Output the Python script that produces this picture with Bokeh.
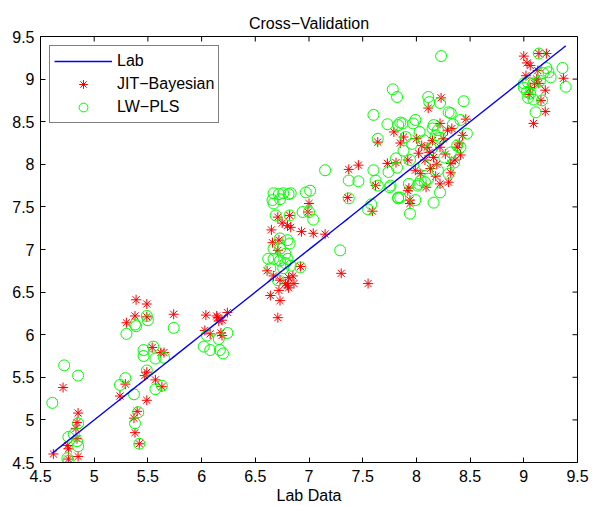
import math
from bokeh.plotting import figure
from bokeh.models import FixedTicker, Legend, LegendItem, Range1d
from bokeh.embed import file_html
from bokeh.resources import INLINE

# ---------------- data ----------------
tick_values = [4.5, 5.0, 5.5, 6.0, 6.5, 7.0, 7.5, 8.0, 8.5, 9.0, 9.5]
tick_labels = ["4.5", "5", "5.5", "6", "6.5", "7", "7.5", "8", "8.5", "9", "9.5"]

# JIT-Bayesian predictions (lab value, predicted value)
jit_x = [4.62, 4.71, 4.85, 4.84, 4.83, 4.84, 4.85, 4.75, 4.76, 4.76,
         5.24, 5.29, 5.30, 5.38, 5.39, 5.49, 5.49, 5.37, 5.40, 5.38,
         5.42, 5.49, 5.49, 5.47, 5.54, 5.62, 5.65, 5.57, 5.63, 5.74,
         6.04, 6.03, 6.14, 6.19, 6.24, 6.08, 6.18, 6.19, 6.15, 6.16,
         6.71, 6.82, 6.75, 6.80, 6.65, 6.93, 7.04, 7.15, 6.66, 6.72,
         6.71, 6.92, 7.30, 6.61, 6.67, 6.73, 6.81, 6.85, 6.78, 6.81,
         6.72, 6.64, 6.73, 6.71, 7.00, 6.99, 6.83, 6.86, 6.80, 7.55,
         7.37, 7.46, 7.36, 7.59, 7.62, 7.64, 7.73, 7.81, 7.79, 7.85,
         7.93, 7.94, 8.23, 8.11, 8.46, 8.22, 8.29, 8.43, 7.88, 8.15,
         8.10, 8.22, 8.02, 8.16, 8.08, 8.32, 8.36, 8.41, 7.92, 7.99,
         8.04, 8.13, 8.32, 8.30, 8.22, 7.92, 8.09, 7.94, 8.27, 8.05,
         8.19, 8.38, 8.33, 8.40, 8.12, 8.25, 8.00, 8.18,
         9.14, 9.21, 9.00, 9.03, 9.06, 9.02, 9.37, 9.13, 9.06, 9.14,
         9.20, 9.16, 9.20, 9.09, 9.10, 9.05, 9.12]
jit_y = [4.60, 5.38, 5.08, 4.97, 4.90, 4.78, 4.57, 4.70, 4.66, 4.54,
         5.28, 5.42, 6.14, 6.22, 6.41, 6.36, 6.21, 5.02, 5.10, 4.85,
         4.72, 5.23, 5.56, 5.52, 5.85, 5.79, 5.79, 5.47, 5.39, 6.24,
         6.23, 6.05, 6.22, 6.17, 6.26, 6.01, 6.02, 5.99, 6.20, 6.16,
         7.38, 7.40, 7.31, 7.28, 7.23, 7.21, 7.19, 7.18, 7.08, 7.11,
         6.99, 6.80, 6.72, 6.75, 6.69, 6.64, 6.67, 6.69, 6.60, 6.55,
         6.52, 6.46, 6.40, 6.20, 7.54, 7.44, 7.26, 6.60, 6.58, 6.60,
         7.94, 7.99, 7.61, 7.45, 7.75, 8.26, 8.01, 8.02, 8.38, 8.25,
         7.72, 7.58, 8.78, 8.66, 8.53, 8.48, 8.40, 8.34, 8.32, 8.28,
         8.20, 8.20, 8.13, 8.08, 8.05, 8.01, 8.05, 8.11, 8.05, 7.93,
         7.89, 7.95, 7.90, 7.79, 7.77, 7.69, 7.73, 7.54, 8.12, 8.22,
         8.00, 8.20, 8.42, 8.25, 8.14, 8.30, 8.30, 7.86,
         9.30, 9.30, 9.27, 9.19, 9.16, 9.04, 9.01, 9.10, 8.90, 8.95,
         8.87, 8.75, 8.62, 8.48, 8.95, 8.82, 9.00]

# LW-PLS predictions (lab value, predicted value)
lw_x = [4.61, 4.72, 4.85, 4.85, 4.76, 4.81, 4.85, 4.75, 4.76, 4.84,
        5.24, 5.29, 5.30, 5.38, 5.39, 5.49, 5.50, 5.37, 5.38, 5.41,
        5.42, 5.46, 5.46, 5.49, 5.55, 5.57, 5.65, 5.57, 5.63, 5.74,
        6.02, 6.08, 6.17, 6.20, 6.05, 6.16, 6.24,
        6.67, 6.72, 6.76, 6.81, 6.83, 6.66, 6.67, 6.73, 6.97, 7.01,
        6.94, 7.00, 7.04, 6.69, 6.82, 6.73, 6.80, 6.82, 6.67, 6.73,
        6.67, 6.73, 6.80, 6.62, 6.92, 6.64, 6.76, 6.71, 6.83, 6.78,
        6.78,
        7.29, 7.15, 7.37, 7.46, 7.37, 7.58, 7.55, 7.60, 7.60, 7.64,
        7.62, 7.64, 7.73, 7.87, 7.83,
        7.78, 7.82, 8.11, 8.12, 8.22, 8.23, 8.44, 8.30, 8.32, 8.41,
        8.34, 8.16, 8.15, 8.20, 8.22, 8.47, 7.99, 7.97, 7.85, 7.88,
        7.96, 8.07, 8.38, 8.41, 8.32, 7.94, 8.07, 8.20, 8.30, 8.04,
        8.11, 8.02, 8.08, 8.22, 8.16, 7.99, 7.94, 7.85, 7.75, 7.83,
        7.81, 7.82, 7.74, 7.76, 7.93, 8.01, 7.83, 8.14, 8.26, 8.03,
        8.18, 8.35, 7.90,
        9.14, 9.21, 9.23, 9.18, 9.36, 9.39, 9.00, 9.04, 9.09, 9.03,
        9.06, 9.04, 9.09, 9.17, 9.11, 9.00, 9.25, 9.15]
lw_y = [5.20, 5.64, 5.52, 4.96, 4.80, 4.83, 4.69, 4.55, 4.52, 4.75,
        5.41, 5.49, 6.01, 6.12, 6.10, 6.22, 6.17, 5.30, 4.96, 5.09,
        4.72, 5.82, 5.75, 5.58, 5.86, 5.72, 5.73, 5.36, 5.40, 6.08,
        5.86, 5.82, 5.82, 5.78, 5.99, 5.95, 6.02,
        7.66, 7.65, 7.66, 7.65, 7.66, 7.58, 7.54, 7.59, 7.67, 7.69,
        7.44, 7.44, 7.35, 7.40, 7.40, 7.13, 7.11, 7.07, 7.01, 7.01,
        6.89, 6.87, 6.89, 6.89, 6.79, 6.78, 6.78, 6.64, 6.81, 6.84,
        6.95,
        6.99, 7.93, 7.81, 7.80, 7.60, 7.53, 7.47, 7.93, 8.58, 8.30,
        7.81, 7.75, 8.47, 8.48, 8.46,
        8.88, 8.79, 8.79, 8.73, 8.72, 9.27, 8.74, 8.61, 8.60, 8.52,
        8.47, 8.46, 8.42, 8.40, 8.31, 8.36, 8.52, 8.48, 8.49, 8.16,
        8.24, 8.28, 8.22, 8.20, 8.14, 8.05, 7.99, 7.93, 7.89, 7.81,
        7.83, 7.77, 7.79, 7.67, 7.55, 7.58, 7.42, 7.61, 7.73, 7.61,
        8.07, 7.96, 7.91, 7.75, 7.77, 7.75, 7.60, 8.18, 8.08, 8.38,
        8.34, 8.02, 8.32,
        9.30, 9.13, 9.08, 9.07, 9.13, 8.91, 8.95, 8.96, 8.95, 8.85,
        8.83, 8.78, 8.76, 8.75, 8.61, 8.90, 9.02, 8.98]

# Lab reference line: measured values against themselves
lab = sorted(set(jit_x + lw_x))

# ---------------- figure ----------------
FONT = "Liberation Sans"
FS = "16px"
X0, X1 = tick_values[0], tick_values[-1]

p = figure(width=592, height=506, output_backend="svg", toolbar_location=None,
           x_range=Range1d(X0, X1), y_range=Range1d(X0, X1),
           min_border_left=40, min_border_right=15,
           min_border_top=36, min_border_bottom=44)
p.background_fill_color = "white"
p.border_fill_color = "white"
p.outline_line_color = "black"
p.outline_line_width = 1
p.grid.visible = False

p.title.text = "Cross\u2212Validation"
p.title.align = "center"
p.title.text_font = FONT
p.title.text_font_size = FS
p.title.text_font_style = "normal"
p.title.text_color = "black"

overrides = {v: s for v, s in zip(tick_values, tick_labels)}

def style_axis(ax):
    ax.ticker = FixedTicker(ticks=tick_values)
    ax.major_tick_in = 5
    ax.major_tick_out = 0
    ax.minor_tick_line_color = None
    ax.axis_line_color = "black"
    ax.major_tick_line_color = "black"
    ax.major_label_text_font = FONT
    ax.major_label_text_font_size = FS
    ax.major_label_text_color = "black"
    ax.major_label_overrides = overrides

for ax in p.xaxis:
    style_axis(ax)
    ax.major_label_standoff = 7
    ax.axis_label = "Lab Data"
    ax.axis_label_text_font = FONT
    ax.axis_label_text_font_size = FS
    ax.axis_label_text_font_style = "normal"
    ax.axis_label_text_color = "black"
    ax.axis_label_standoff = 2
for ax in p.yaxis:
    style_axis(ax)
    ax.major_label_standoff = 6

# inward tick marks on the top and right edges of the box
n = len(tick_values)
p.ray(x=tick_values, y=[X1] * n, length=5, length_units="screen",
      angle=-math.pi / 2, line_color="black", line_width=1)
p.ray(x=[X1] * n, y=tick_values, length=5, length_units="screen",
      angle=math.pi, line_color="black", line_width=1)

r_jit = p.scatter(jit_x, jit_y, marker="asterisk", size=10,
                  line_color="#ff0000", line_width=1)
r_lw = p.scatter(lw_x, lw_y, marker="circle", size=11, fill_color=None,
                 line_color="#00ff00", line_width=1)
r_lab = p.line(lab, lab, line_color="#0000ff", line_width=1.4)

legend = Legend(items=[LegendItem(label="Lab", renderers=[r_lab]),
                       LegendItem(label="JIT\u2212Bayesian", renderers=[r_jit]),
                       LegendItem(label="LW\u2212PLS", renderers=[r_lw])],
                location="top_left")
legend.margin = 9
legend.padding = 4
legend.spacing = 1
legend.label_height = 22
legend.glyph_height = 22
legend.glyph_width = 58
legend.label_standoff = 5
legend.label_text_font = FONT
legend.label_text_font_size = FS
legend.label_text_color = "black"
legend.border_line_color = "black"
legend.border_line_width = 1
legend.background_fill_color = "white"
legend.background_fill_alpha = 1
p.add_layout(legend)

open("out.html", "w").write(file_html(p, INLINE))
